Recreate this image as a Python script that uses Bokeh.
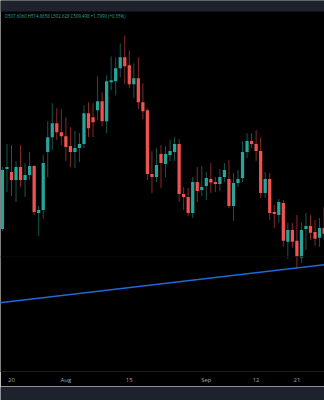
import numpy as np
import pandas as pd
from bokeh.plotting import figure
from bokeh.models import Range1d, BoxAnnotation, Span, Label, FixedTicker, ColumnDataSource
from bokeh.layouts import column
from bokeh.embed import file_html
from bokeh.resources import INLINE

# ---- data (daily candles) ----
dates = pd.date_range("2023-07-18", "2023-09-27", freq="D")

opens = [510.75, 525.75, 525, 523, 526.25, 523, 524.25, 526.5, 514.75, 515.5, 530, 533.75, 537.25, 535,
         534, 531.5, 530, 531, 532, 539.75, 538.75, 540.5, 542.75, 537.75, 547.5, 547.75, 551, 553.75, 551.75,
         547, 548.5, 542.5, 540.5, 524.5, 523.75, 529.5, 527, 529.25, 530, 532, 519.5, 518.75, 514.75, 522.5, 520.5,
         521.5, 523.25, 522.5, 522, 523.75, 523.25, 516.5, 522.25, 523.5, 530, 532.75, 532, 530.25, 519.75, 523.25,
         515, 514.25, 517.25, 507.5, 510.5, 507.75, 503.5, 510.75, 511.5, 510, 508.5, 511]
highs = [526.25, 532, 531.75, 527.75, 531.75, 527.25, 530, 526.75, 516.5, 529.25, 537.75, 542.25, 541, 540.75,
         538.75, 536.25, 535.25, 534.75, 541.75, 542.5, 542.25, 549, 545, 549.25, 554, 553.75, 557.25, 559.25, 555.5,
         552.25, 553.75, 547.25, 541, 530.25, 531, 531.75, 531.5, 533, 533.75, 533.25, 521.25, 521, 523.75, 526.25, 526.5,
         525, 527.25, 523.75, 525.75, 527.25, 528, 524.75, 525.5, 532.75, 534.75, 534.75, 535.5, 533.75, 525, 524.75,
         516.75, 518.25, 518, 512.25, 512.25, 514.25, 512.25, 514.75, 514.25, 513, 513.5, 516.25]
lows = [510.25, 520, 519, 517.5, 521.25, 518.75, 523, 514.25, 509, 513.25, 523.75, 530.5, 533, 531.75,
        527.75, 526.25, 526, 527.5, 531, 533.75, 533.75, 538, 536.5, 534.75, 545.5, 544.25, 548.75, 547, 546,
        543.5, 540.75, 538.25, 523, 519.75, 522.5, 521, 523.75, 527.75, 527.75, 517.5, 515.5, 514, 513.5, 517.5, 519,
        518, 519.75, 520, 520.25, 522.5, 516, 512.75, 521.25, 522.5, 528.5, 531, 527.75, 518.5, 518.5, 513,
        511, 512.25, 506.25, 503.25, 506, 501, 502.25, 505.5, 508, 506.5, 506.25, 508]
closes = [525.5, 526.25, 523, 526.25, 523, 524.25, 526.5, 515, 515.5, 527.25, 533.75, 537.25, 535, 534,
          531.25, 530, 531, 532, 539.75, 536, 537.5, 542.75, 537.75, 547.75, 548, 551, 553.75, 551.5, 547,
          548.5, 542.5, 540.25, 524.5, 523.75, 526.75, 527.25, 529.5, 530.25, 532, 519.5, 518.75, 514.75, 522.5, 520.25, 521.25,
          523.5, 522.4, 522, 523.75, 525.5, 516.5, 522.25, 523.25, 530, 532.75, 532, 530.25, 519.75, 523.25, 514.75,
          514.5, 517.5, 507.75, 510.5, 507.5, 503.75, 510.5, 511.5, 509.75, 508.25, 511, 509.5]

trend_dates = ["2023-07-17", "2023-09-28"]
trend_prices = [492.17, 501.87]

tick_dates = ["2023-07-20", "2023-08-01", "2023-08-15", "2023-09-01", "2023-09-12", "2023-09-21"]
tick_labels = ["20", "Aug", "15", "Sep", "12", "21"]

grid_price = 503.75
header_text = "O507.6060 H514.8658 L502.628 C509.498 +1.7990 (+0.35%)"

# ---- styling ----
UP, DOWN = "#26a69a", "#ef5350"
UP_WICK, DOWN_WICK = "#17574f", "#8a2828"
BG = "#000000"
BAR = "#1e222d"
DAY = 86400000.0

def ms(d):
    return pd.Timestamp(d).value / 1e6

x_ms = np.array([ms(d) for d in dates])
o = np.array(opens); h = np.array(highs); l = np.array(lows); c = np.array(closes)
up = c >= o

src = ColumnDataSource(dict(
    x=x_ms, top=np.maximum(o, c), bottom=np.minimum(o, c), high=h, low=l,
    body=np.where(up, UP, DOWN), wick=np.where(up, UP_WICK, DOWN_WICK)))

x0 = ms("2023-07-20") - 2.428 * DAY
x1 = x0 + 71.52 * DAY

p = figure(width=324, height=386, x_range=Range1d(x0, x1), y_range=Range1d(475, 568),
           toolbar_location=None, output_backend="svg", min_border=0, min_border_bottom=14,
           background_fill_color=BG, border_fill_color=BG, outline_line_color=None,
           y_axis_location=None)
p.grid.visible = False

p.add_layout(Span(location=grid_price, dimension="width", line_color="#0b0b0b", line_width=1))

p.segment(x0="x", y0="low", x1="x", y1="high", line_color="wick", line_width=1, source=src)
p.vbar(x="x", width=0.72 * DAY, top="top", bottom="bottom", fill_color="body",
       line_color=None, source=src)

p.line([ms(d) for d in trend_dates], trend_prices, line_color="#2468d8", line_width=1.5)

p.add_layout(BoxAnnotation(bottom=565.25, fill_color=BAR, fill_alpha=1.0, line_alpha=0))
p.add_layout(Label(x=x0 + 0.9 * DAY, y=564.1, text=header_text, text_font_size="4.4px",
                   text_font="Open Sans", text_color=UP, text_baseline="middle"))

tick_ms = [ms(d) for d in tick_dates]
ax = p.xaxis[0]
ax.ticker = FixedTicker(ticks=tick_ms)
ax.major_label_overrides = {t: lab for t, lab in zip(tick_ms, tick_labels)}
ax.major_tick_line_color = None
ax.minor_tick_line_color = None
ax.major_tick_out = 0
ax.axis_line_color = "#1c1c1c"
ax.major_label_text_color = "#a3a6af"
ax.major_label_text_font = "Open Sans"
ax.major_label_text_font_size = "6px"
ax.major_label_standoff = 4

bar = figure(width=324, height=14, toolbar_location=None, output_backend="svg", min_border=0,
             background_fill_color=BAR, border_fill_color=BAR, outline_line_color=None,
             x_axis_location=None, y_axis_location=None)
bar.grid.visible = False

layout = column(p, bar, spacing=0)
open("out.html", "w").write(file_html(layout, INLINE))
